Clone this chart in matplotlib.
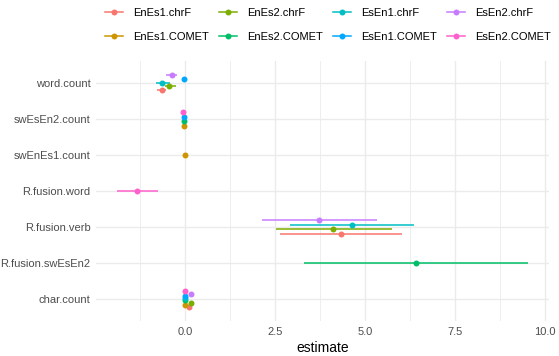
import numpy as np
import matplotlib.pyplot as plt
from matplotlib.lines import Line2D

plt.rcParams['font.family'] = ['Liberation Sans', 'DejaVu Sans']

# model terms, bottom to top on the y axis
terms = ['char.count', 'R.fusion.swEsEn2', 'R.fusion.verb', 'R.fusion.word',
         'swEnEs1.count', 'swEsEn2.count', 'word.count']

models = ['EnEs1.chrF', 'EnEs1.COMET', 'EnEs2.chrF', 'EnEs2.COMET',
          'EsEn1.chrF', 'EsEn1.COMET', 'EsEn2.chrF', 'EsEn2.COMET']
colors = ['#F8766D', '#CD9600', '#7CAE00', '#00BE67',
          '#00BFC4', '#00A9FF', '#C77CFF', '#FF61CC']

# tidy coefficient table (term, model, estimate, conf.low, conf.high)
row_term = ['word.count', 'word.count', 'word.count', 'word.count', 'word.count',
            'swEsEn2.count', 'swEsEn2.count', 'swEsEn2.count', 'swEsEn2.count',
            'swEnEs1.count',
            'R.fusion.word',
            'R.fusion.verb', 'R.fusion.verb', 'R.fusion.verb', 'R.fusion.verb',
            'R.fusion.swEsEn2',
            'char.count', 'char.count', 'char.count', 'char.count',
            'char.count', 'char.count', 'char.count', 'char.count']
row_model = ['EnEs1.chrF', 'EnEs2.chrF', 'EsEn1.chrF', 'EsEn1.COMET', 'EsEn2.chrF',
             'EnEs1.COMET', 'EnEs2.COMET', 'EsEn1.COMET', 'EsEn2.COMET',
             'EnEs1.COMET',
             'EsEn2.COMET',
             'EnEs1.chrF', 'EnEs2.chrF', 'EsEn1.chrF', 'EsEn2.chrF',
             'EnEs2.COMET',
             'EnEs1.chrF', 'EnEs1.COMET', 'EnEs2.chrF', 'EnEs2.COMET',
             'EsEn1.chrF', 'EsEn1.COMET', 'EsEn2.chrF', 'EsEn2.COMET']
estimate = [-0.63, -0.43, -0.65, -0.03, -0.37,
            -0.02, -0.04, -0.02, -0.06,
            0.00,
            -1.33,
            4.33, 4.12, 4.63, 3.72,
            6.41,
            0.12, -0.01, 0.16, 0.01, 0.00, -0.01, 0.16, -0.01]
conf_low = [-0.78, -0.54, -0.81, -0.05, -0.52,
            -0.03, -0.05, -0.03, -0.07,
            -0.01,
            -1.90,
            2.65, 2.52, 2.91, 2.13,
            3.30,
            0.10, -0.02, 0.14, 0.00, -0.01, -0.02, 0.14, -0.02]
conf_high = [-0.52, -0.24, -0.42, -0.01, -0.22,
             -0.01, -0.03, -0.01, -0.05,
             0.01,
             -0.74,
             6.04, 5.75, 6.37, 5.34,
             9.54,
             0.14, 0.00, 0.18, 0.02, 0.01, 0.00, 0.18, 0.00]

fig = plt.figure(figsize=(5.59, 3.56), dpi=100)
ax = fig.add_axes([96 / 559, 1 - 321 / 356, 453 / 559, 260 / 356])

# vertical dodge like position_dodge(width = 0.5)
dodge = 0.5
for t_i, term in enumerate(terms):
    idx = [i for i in range(len(row_term)) if row_term[i] == term]
    idx.sort(key=lambda i: models.index(row_model[i]))
    n = len(idx)
    for k, i in enumerate(idx):
        y = t_i + 1 + (k - (n - 1) / 2) * dodge / n
        c = colors[models.index(row_model[i])]
        ax.plot([conf_low[i], conf_high[i]], [y, y], color=c, lw=1.1,
                solid_capstyle='butt', zorder=3)
        ax.plot(estimate[i], y, 'o', color=c, ms=4.3, mew=0, zorder=4)

ax.set_xlim(-2.47, 10.11)
ax.set_ylim(0.4, 7.6)
ax.set_yticks(range(1, len(terms) + 1))
ax.set_yticklabels(terms)
ax.set_xticks([0, 2.5, 5, 7.5, 10])
ax.set_xticklabels(['0.0', '2.5', '5.0', '7.5', '10.0'])
ax.set_xticks([-1.25, 1.25, 3.75, 6.25, 8.75], minor=True)

ax.grid(True, which='major', color='#EBEBEB', lw=1.0)
ax.grid(True, which='minor', axis='x', color='#EBEBEB', lw=0.6)
ax.set_axisbelow(True)
for s in ax.spines.values():
    s.set_visible(False)
ax.tick_params(which='both', length=0, labelsize=8, labelcolor='#4D4D4D', pad=4)
ax.set_xlabel('estimate', fontsize=10, labelpad=3)

handles = [Line2D([], [], color=c, lw=1.1, marker='o', ms=4.3, mew=0) for c in colors]
fig.legend(handles, models, ncol=4, loc='upper left', bbox_to_anchor=(95 / 559, 1.005),
           frameon=False, fontsize=8, handlelength=1.6, handletextpad=0.9,
           columnspacing=0.95, labelspacing=1.25)

fig.savefig('out.png', dpi=100)
